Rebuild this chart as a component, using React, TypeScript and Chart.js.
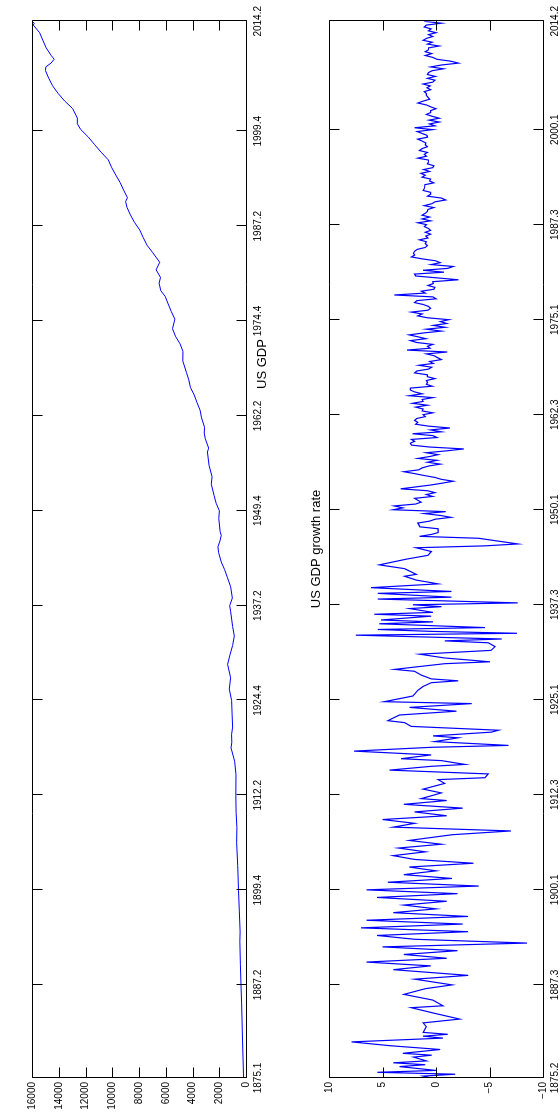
import React, { useEffect, useRef } from "react";
import { Chart, registerables } from "chart.js";
Chart.register(...registerables);

// ---------- data: US GDP ----------
const gdpTickLabels = ["1875.1","1887.2","1899.4","1912.2","1924.4","1937.2","1949.4","1962.2","1974.4","1987.2","1999.4","2014.2"];
const gdpValueTicks = [0,2000,4000,6000,8000,10000,12000,14000,16000];
const gdpDates = [
  1875.1,1880.1,1885.1,1887.2,1890.1,1893.1,1894.2,1897.1,1899.4,1903.1,1906.1,1908.1,1910.1,1912.2,1915.1,1916.4,1918.3,1919.2,1920.2,1921.2,1923.1,1924.4,1926.2,1927.4,1929.3,1930.4,1932.1,1933.2,1934.3,1936.3,1937.2,1938.2,1939.4,1941.1,1942.1,1943.1,1944.2,1945.1,1945.4,1946.3,1947.1,
  1948.4,1949.4,1950.4,1951.4,1953.2,1954.2,1955.4,1957.3,1958.1,1959.2,1960.1,1960.4,1962.1,1963.1,1964.1,1965.1,1966.1,1967.1,1968.1,1969.3,1970.4,1971.4,1972.4,1973.4,1975.1,1976.1,1977.1,1978.1,1978.4,1979.4,1980.3,1981.3,1982.3,1983.4,1984.4,1985.4,1986.4,1987.4,1988.4,1989.4,1990.3,1991.1,1992.1,1993.1,1994.1,1995.1,1996.1,1997.1,1998.1,1999.1,2000.1,2000.4,2001.3,2002.4,2003.4,2004.4,2005.4,2006.4,2007.4,2008.2,2008.4,2009.2,2009.4,2010.4,2011.4,2012.4,2013.4,2014.1,2014.2
];
const gdpValues = [
  180,260,330,375,420,460,440,500,560,620,700,680,740,760,750,850,1120,1060,1080,1000,1040,1075,1250,1150,1376,1200,1000,875,1000,1150,1220,1020,1150,1400,1600,1850,2050,2100,1950,1850,1934,
  2035,1990,2234,2384,2594,2539,2765,2884,2792,3046,3123,3098,3325,3430,3662,3870,4152,4279,4459,4727,4713,4930,5275,5496,5317,5585,5818,6042,6370,6498,6389,6719,6451,6965,7402,7683,7946,8335,8646,8900,9001,8865,9148,9409,9738,10050,10300,10830,11320,11790,12360,12610,12610,12960,13560,14050,14460,14750,14992,14963,14577,14340,14566,14940,15190,15430,15900,15830,15990
];

// ---------- data: US GDP growth rate ----------
const growthTickLabels = ["1875.2","1887.3","1900.1","1912.3","1925.1","1937.3","1950.1","1962.3","1975.1","1987.3","2000.1","2014.2"];
const growthValueTicks = [-10,-5,0,5,10];
// 1875.2 - 1946.4 (turning points)
const growthEarlyDates = [
  1875.2,1875.3,1875.4,1876.1,1876.2,1876.4,1877.1,1877.2,1877.3,1878.1,1878.2,1878.3,1879.1,1879.3,1880.1,1880.3,1880.4,1881.1,1881.2,1882.1,1882.3,1883.1,1883.4,1884.3,1884.4,1885.3,
  1886.2,1887.1,1887.3,1888.2,1888.4,1889.3,1890.1,1890.3,1891.1,1891.3,1892.1,1892.3,1893.1,1893.3,1894.1,1894.3,1895.1,1895.3,1896.1,1896.3,1897.1,1897.3,1898.1,1898.3,1899.1,1899.3,1900.1,1900.3,1901.1,1901.3,1902.1,1902.3,1903.1,1903.3,1904.1,1904.3,1905.1,1905.3,1906.1,1906.3,1907.2,1907.4,1908.2,1908.4,1909.2,1909.4,1910.2,1910.4,1911.2,1911.4,
  1912.1,1912.4,1913.2,1914.1,1914.3,1914.4,1915.2,1915.4,1916.2,1916.3,1917.1,1917.2,1917.4,1918.2,1918.4,1919.1,1919.3,1920.1,1920.2,1920.4,1921.1,1921.3,1922.1,1922.2,1923.1,1923.3,1924.1,1924.3,1924.4,1925.3,1926.2,1926.4,1927.2,1927.3,1927.4,1928.2,1928.4,1929.1,1929.4,1930.1,1930.3,1931.1,1931.3,1932.1,1932.3,1932.4,1933.1,1933.3,1933.4,1934.1,1934.2,1934.3,1935.1,1935.2,1935.3,1936.1,1936.2,1936.3,1937.1,1937.2,1937.3,1937.4,1938.2,1938.3,1939.1,1939.2,1939.4,1940.2,1940.4,1941.2,1941.3,1942.2,1942.4,1943.3,1944.1,1944.3,1945.1,1945.2,1945.3,1946.2,1946.3,1946.4
];
const growthEarlyValues = [
  0.5,1.2,-1.8,5.5,0.0,3.4,1.0,4.0,0.9,2.1,0.4,3.1,-0.4,4.3,7.9,-0.65,1.2,-1.1,1.2,0.9,1.2,-2.2,0.1,2.3,-0.65,0.3,
  3.0,1.0,-1.5,2.0,-3.0,4.0,0.5,6.5,-1.0,3.0,-2.0,5.0,-8.5,2.0,5.5,-3.0,7.0,-2.5,6.5,-3.0,4.0,0.0,3.0,-1.0,5.5,-2.0,6.5,-4.0,4.5,-1.5,3.0,0.0,2.5,-3.5,2.0,4.0,1.0,3.5,-0.5,2.5,-1.5,-7.0,4.0,2.0,5.0,-1.0,2.0,-2.5,3.0,-1.0,
  1.38,-0.5,1.21,-0.82,-0.19,-4.58,-4.89,4.35,0.44,-2.7,-0.5,3.26,0.44,7.65,0.44,-6.78,0.12,-2.07,0.28,-5.21,-5.84,2.31,2.94,4.5,3.41,-1.92,2.47,-3.33,4.83,2.16,1.69,1.21,0.44,-2.07,0.44,1.38,2.0,3.88,-0.82,-5.05,-0.82,1.53,-5.15,-5.52,-4.89,-0.82,-6.15,7.49,-7.56,0.44,5.45,-4.58,5.3,0.28,5.14,0.44,5.77,0.28,2.47,-0.5,2.16,-7.65,5.45,-1.45,5.45,-1.45,6.08,-0.19,1.85,2.94,1.85,2.94,5.3,2.78,0.75,0.44,1.85,-4.58,-7.65,-3.96,1.53,0.44
];
// 1947.1 - 2014.2, one value per quarter
const growthLateStart = "1947.1";
const growthLateValues = [
  -0.2,-0.2,-0.2,1.5, 1.6,1.7,0.6,0.1, -1.4,-0.4,1.1,-0.9, 4.0,3.1,3.9,1.9, 1.4,1.7,2.0,0.3,
  0.9,0.1,0.8,3.3, 1.9,0.5,-0.6,-1.6, -0.5,0.1,1.1,2.0, 3.0,1.6,1.3,0.7, -0.4,0.8,-0.1,1.7,
  0.6,-0.2,0.9,-1.0, -2.6,0.6,2.3,2.4, 2.0,2.3,-0.1,0.3, 2.2,-0.5,0.5,-1.3, 0.7,1.9,1.7,2.0,
  1.8,1.0,1.2,0.3, 1.3,1.2,1.9,0.8, 2.2,1.2,1.3,0.3, 2.5,1.3,2.0,2.4, 2.4,0.35,0.9,0.8,
  0.9,0.1,0.8,0.8, 2.0,1.8,0.7,0.4, 1.6,0.25,0.6,-0.5, -0.15,0.15,0.9,-1.05, 2.7,0.55,0.8,0.3,
  1.8,2.4,0.95,1.7, 2.5,1.2,-0.5,0.9, -0.85,0.25,-1.0,-0.4, -1.2,0.8,1.7,1.3, 2.3,0.75,0.5,0.7,
  1.2,2.0,1.8,0.0, 0.3,3.9,1.0,1.35, 0.2,0.1,0.75,0.25, 0.3,-2.1,-0.1,1.9, 2.0,-0.75,1.2,-1.1,
  -1.6,0.45,-0.4,0.05, 1.3,2.3,2.0,2.1, 2.0,1.75,1.0,0.8, 1.0,0.9,1.55,0.75, 0.95,0.5,1.0,0.5,
  0.7,1.1,0.9,1.7, 0.5,1.3,0.6,1.3, 1.0,0.8,0.75,0.2, 1.1,0.4,0.1,-0.9, -0.5,0.8,0.5,0.5,
  1.2,1.1,1.05,1.05, 0.2,0.6,0.5,1.3, 1.0,1.4,0.6,1.15, 0.3,0.2,0.8,0.7, 0.7,1.7,0.9,1.1,
  0.8,1.55,1.3,0.8, 1.0,0.95,1.3,1.7, 0.8,0.85,1.3,1.75, 0.3,2.0,0.1,0.6, -0.3,0.65,-0.3,0.35,
  0.9,0.5,0.5,0.0, 0.5,0.9,1.7,1.2, 0.6,0.75,0.9,0.9, 1.1,0.5,0.85,0.55, 1.2,0.3,0.1,0.8,
  0.05,0.8,0.7,0.35, -0.7,0.5,-0.5,-2.1, -1.4,-0.1,0.3,1.0, 0.4,1.0,0.7,0.7, -0.3,0.8,0.35,1.2,
  0.9,0.3,0.7,0.0, 0.7,0.45,1.1,0.9, -0.5,1.1
];

// ---------- helpers ----------
const qOf = (d: number) => {
  const y = Math.floor(d + 1e-6);
  const k = Math.round((d - y) * 10);
  return y * 4 + (k - 1);
};
const qLabel = (s: string) => qOf(parseFloat(s));
const FONT = '"Liberation Sans", Arial, Helvetica, sans-serif';
const W = 1119;
const fmtNum = (v: number) => (v < 0 ? "\u2212" + String(-v) : String(v));

function makePanel(
  canvas: HTMLCanvasElement,
  cfg: {
    points: { x: number; y: number }[]; xLabels: string[]; yTicks: number[];
    yMin: number; yMax: number; top: number; xAxisH: number; lineW: number;
    title: string; titleX: number; titleY: number;
  }
) {
  const xTickVals = cfg.xLabels.map(qLabel);
  const framePlugin = {
    id: "frame",
    afterDraw(chart: any) {
      const { ctx, chartArea: a, scales } = chart;
      ctx.save();
      ctx.strokeStyle = "#000";
      ctx.lineWidth = 1;
      const L = Math.round(a.left) + 0.5, R = Math.round(a.right) + 0.5;
      const T = Math.round(a.top) + 0.5, B = Math.round(a.bottom) + 0.5;
      const tl = 10;
      ctx.beginPath();
      ctx.rect(L, T, R - L, B - T);
      scales.x.ticks.forEach((t: any) => {
        const x = Math.round(scales.x.getPixelForValue(t.value)) + 0.5;
        ctx.moveTo(x, B); ctx.lineTo(x, B - tl);
        ctx.moveTo(x, T); ctx.lineTo(x, T + tl);
      });
      scales.y.ticks.forEach((t: any) => {
        const y = Math.round(scales.y.getPixelForValue(t.value)) + 0.5;
        ctx.moveTo(L, y); ctx.lineTo(L + tl, y);
        ctx.moveTo(R, y); ctx.lineTo(R - tl, y);
      });
      ctx.stroke();
      ctx.fillStyle = "#000";
      ctx.font = "13px " + FONT;
      ctx.textAlign = "center";
      ctx.textBaseline = "middle";
      ctx.fillText(cfg.title, cfg.titleX, cfg.titleY);
      ctx.restore();
    },
  };
  return new Chart(canvas, {
    type: "line",
    data: {
      datasets: [{
        data: cfg.points, borderColor: "#0000ff", borderWidth: cfg.lineW, pointRadius: 0,
        tension: 0, fill: false,
      }],
    },
    options: {
      animation: false, responsive: false, maintainAspectRatio: false,
      devicePixelRatio: 1,
      layout: { padding: { top: cfg.top, right: 20, left: 0, bottom: 0 } },
      plugins: { legend: { display: false }, tooltip: { enabled: false }, title: { display: false } },
      scales: {
        x: {
          type: "linear", min: xTickVals[0], max: xTickVals[xTickVals.length - 1],
          grid: { display: false, drawTicks: false, tickLength: 0 }, border: { display: false },
          afterBuildTicks: (s: any) => { s.ticks = xTickVals.map((v) => ({ value: v })); },
          afterFit: (s: any) => { s.height = cfg.xAxisH; },
          ticks: {
            autoSkip: false, maxRotation: 0, minRotation: 0, padding: 6, color: "#000",
            font: { family: FONT, size: 10 },
            callback: (_v: any, i: number) => cfg.xLabels[i],
          },
        },
        y: {
          type: "linear", min: cfg.yMin, max: cfg.yMax,
          grid: { display: false, drawTicks: false, tickLength: 0 }, border: { display: false },
          afterBuildTicks: (s: any) => { s.ticks = cfg.yTicks.map((v) => ({ value: v })); },
          afterFit: (s: any) => { s.width = 41; },
          ticks: {
            autoSkip: false, padding: 4, color: "#000",
            font: { family: FONT, size: 10 },
            callback: (_v: any, i: number) => fmtNum(cfg.yTicks[i]),
          },
        },
      },
    },
    plugins: [framePlugin],
  } as any);
}

export default function App() {
  const c1 = useRef<HTMLCanvasElement>(null);
  const c2 = useRef<HTMLCanvasElement>(null);
  useEffect(() => {
    const gdpPts = gdpDates.map((d, i) => ({ x: qOf(d), y: gdpValues[i] }));
    const lateQ0 = qLabel(growthLateStart);
    const growthPts = [
      ...growthEarlyDates.map((d, i) => ({ x: qOf(d), y: growthEarlyValues[i] })),
      ...growthLateValues.map((v, i) => ({ x: lateQ0 + i, y: v })),
    ];
    const a = makePanel(c1.current!, {
      points: gdpPts, xLabels: gdpTickLabels, yTicks: gdpValueTicks,
      yMin: 0, yMax: 16000, top: 32, xAxisH: 34, lineW: 1,
      title: "US GDP", titleX: 755, titleY: 262,
    });
    const b = makePanel(c2.current!, {
      points: growthPts, xLabels: growthTickLabels, yTicks: growthValueTicks,
      yMin: -10, yMax: 10, top: 49, xAxisH: 17, lineW: 1.2,
      title: "US GDP growth rate", titleX: 570, titleY: 36,
    });
    return () => { a.destroy(); b.destroy(); };
  }, []);
  return (
    <div style={{ position: "fixed", left: 0, top: 0, width: 560, height: 1119, overflow: "hidden", background: "#fff" }}>
      <div style={{
        position: "absolute", left: 0, top: 0, width: W, height: 560,
        transformOrigin: "0 0", transform: "translate(0px, 1119px) rotate(-90deg)",
      }}>
        <canvas ref={c1} width={W} height={280} style={{ position: "absolute", left: 0, top: 0, width: W, height: 280 }} />
        <canvas ref={c2} width={W} height={280} style={{ position: "absolute", left: 0, top: 280, width: W, height: 280 }} />
      </div>
    </div>
  );
}
